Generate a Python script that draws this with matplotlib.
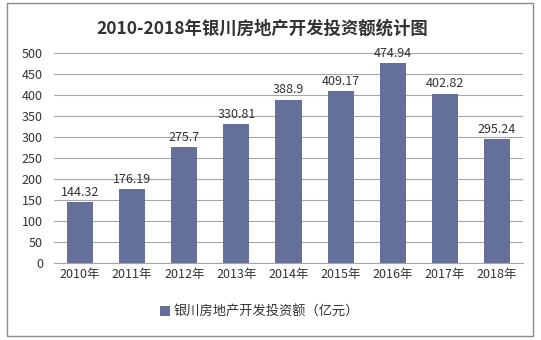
import matplotlib.pyplot as plt
from matplotlib.patches import Rectangle

plt.rcParams['font.family'] = ['Noto Sans CJK SC', 'DejaVu Sans']

anos = ["2010年", "2011年", "2012年", "2013年", "2014年", "2015年", "2016年", "2017年", "2018年"]
valores = [144.32, 176.19, 275.7, 330.81, 388.9, 409.17, 474.94, 402.82, 295.24]
rotulos = ["144.32", "176.19", "275.7", "330.81", "388.9", "409.17", "474.94", "402.82", "295.24"]

cor = "#65709a"

fig = plt.figure(figsize=(5.41, 3.40), dpi=100)
fig.patches.append(Rectangle((0.013, 0.013), 0.973, 0.978, transform=fig.transFigure,
                             fill=False, edgecolor="#8c8c8c", linewidth=1))

ax = fig.add_axes([0.0998, 0.2265, 0.867, 0.618])
x = range(len(anos))
barras = ax.bar(x, valores, width=0.5, color=cor, zorder=3, label="银川房地产开发投资额（亿元）")
for i, (v, t) in enumerate(zip(valores, rotulos)):
    ax.text(i, v + 8, t, ha="center", va="bottom", fontsize=9, color="#333333")

ax.set_ylim(0, 500)
ax.set_xlim(-0.5, len(anos) - 0.5)
ax.set_yticks(range(0, 501, 50))
ax.set_xticks(list(x))
ax.set_xticklabels(anos)
ax.tick_params(axis="both", length=0, labelsize=9, colors="#333333")
ax.tick_params(axis="y", pad=8)
ax.grid(axis="y", color="#a6a6a6", linewidth=0.8, zorder=0)
for lado in ["top", "right", "left"]:
    ax.spines[lado].set_visible(False)
ax.spines["bottom"].set_color("#a6a6a6")

fig.text(0.484, 0.915, "2010-2018年银川房地产开发投资额统计图", ha="center", va="center",
         fontsize=12.5, fontweight="bold", color="#333333")

fig.legend(handles=[barras], loc="center", bbox_to_anchor=(0.48, 0.082), frameon=False,
           fontsize=9.5, handlelength=0.7, handleheight=0.7, handletextpad=0.3,
           labelcolor="#333333")

plt.savefig("out.png", dpi=100)
